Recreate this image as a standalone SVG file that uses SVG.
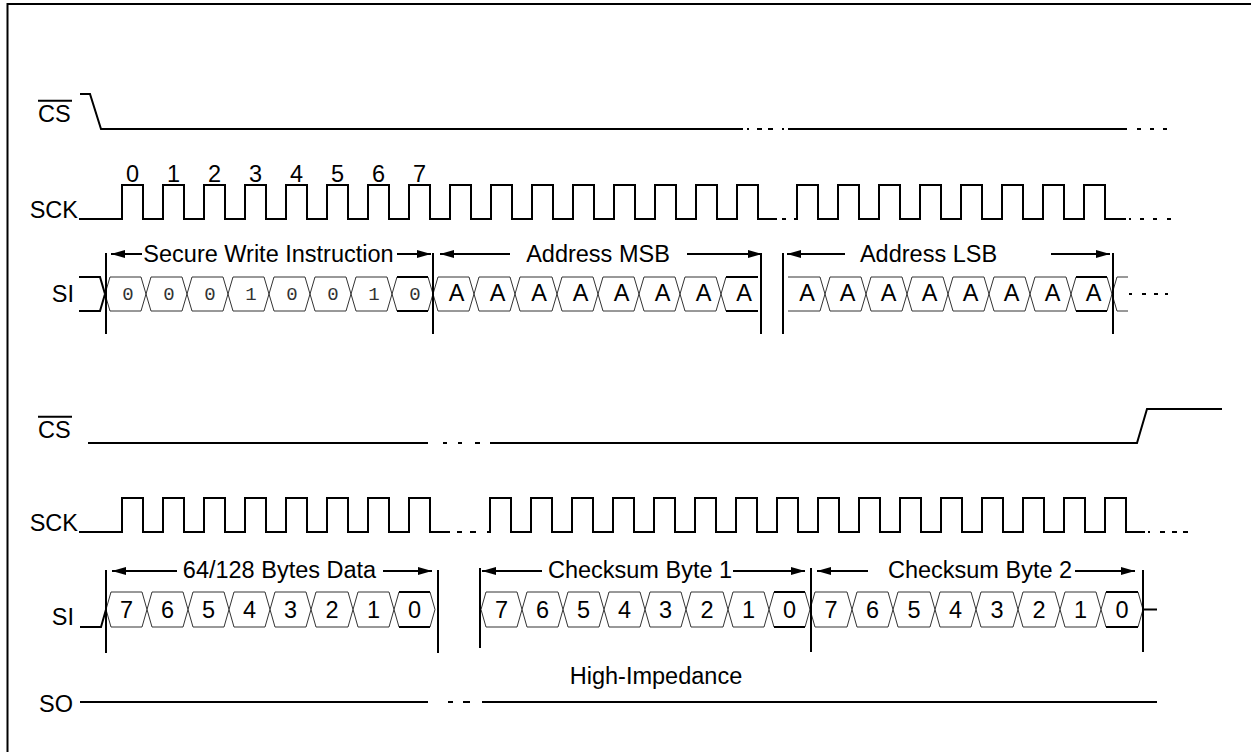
<svg xmlns="http://www.w3.org/2000/svg" width="1251" height="752" viewBox="0 0 1251 752">
<defs>
<style>
.sig{fill:none;stroke:#000;stroke-width:2}
.hex{fill:none;stroke:#333;stroke-width:1}
.thk{fill:none;stroke:#000;stroke-width:2}
.mk{fill:none;stroke:#000;stroke-width:2}
.arr{fill:none;stroke:#000;stroke-width:2;marker-end:url(#ah)}
.lbl{font-family:"Liberation Sans",Arial,sans-serif;font-size:23.5px;fill:#000}
.c{text-anchor:middle}
.e{text-anchor:end}
.bit{font-family:"Liberation Mono","Courier New",monospace;font-size:19px;fill:#333;text-anchor:middle}
</style>
<marker id="ah" markerUnits="userSpaceOnUse" markerWidth="14" markerHeight="8" refX="14" refY="4" orient="auto">
<path d="M0,0 L14,4 L0,8 z" fill="#000"/>
</marker>
</defs>
<rect width="1251" height="752" fill="#fff"/>
<path class="sig" d="M7.5,752 V4 H1251"/>

<g id="cs-top">
<text class="lbl" x="38" y="122">CS</text>
<line class="sig" x1="38" y1="100.7" x2="72" y2="100.7"/>
<path class="sig" d="M80,94 H90 L101,129 H743 M747,129 H749 M757,129 H762 M768,129 H773 M782,129 H784 M788,129 H1127 M1137,129 H1141 M1150,129 H1154 M1163,129 H1167"/>
</g>

<g id="sck-top">
<text class="lbl e" x="78" y="218">SCK</text>
<path class="sig" d="M79,219 H122 V185 H143 V219 H163 V185 H184 V219 H204 V185 H225 V219 H245 V185 H266 V219 H286 V185 H307 V219 H327 V185 H348 V219 H368 V185 H389 V219 H409 V185 H430 V219 H450 V185 H471 V219 H491 V185 H512 V219 H532 V185 H553 V219 H573 V185 H594 V219 H614 V185 H635 V219 H655 V185 H676 V219 H696 V185 H717 V219 H737 V185 H758 V219 H777 M782,219 H786 M794,219 H797 V185 H818 V219 H838 V185 H859 V219 H879 V185 H900 V219 H920 V185 H941 V219 H961 V185 H982 V219 H1002 V185 H1023 V219 H1043 V185 H1064 V219 H1084 V185 H1105 V219 H1126 M1129,219 H1131 M1140,219 H1144 M1153,219 H1157 M1167,219 H1171"/>
<g class="lbl c">
<text x="132.5" y="182">0</text><text x="173.5" y="182">1</text><text x="214.5" y="182">2</text><text x="255.5" y="182">3</text><text x="296.5" y="182">4</text><text x="337.5" y="182">5</text><text x="378.5" y="182">6</text><text x="419.5" y="182">7</text>
</g>
</g>

<g id="si-top">
<text class="lbl e" x="74" y="302">SI</text>
<path class="sig" d="M79,277 H100 L105,294 L100,311 H79"/>
<g class="hex">
<polygon points="105,294 110,277 141,277 146,294 141,311 110,311"/>
<polygon points="146,294 151,277 182,277 187,294 182,311 151,311"/>
<polygon points="187,294 192,277 223,277 228,294 223,311 192,311"/>
<polygon points="228,294 233,277 264,277 269,294 264,311 233,311"/>
<polygon points="269,294 274,277 305,277 310,294 305,311 274,311"/>
<polygon points="310,294 315,277 346,277 351,294 346,311 315,311"/>
<polygon points="351,294 356,277 387,277 392,294 387,311 356,311"/>
<polygon points="392,294 397,277 428,277 433,294 428,311 397,311"/>
<polygon points="433,294 438,277 469,277 474,294 469,311 438,311"/>
<polygon points="474,294 479,277 510,277 515,294 510,311 479,311"/>
<polygon points="515,294 520,277 552,277 557,294 552,311 520,311"/>
<polygon points="557,294 562,277 593,277 598,294 593,311 562,311"/>
<polygon points="598,294 603,277 634,277 639,294 634,311 603,311"/>
<polygon points="639,294 644,277 675,277 680,294 675,311 644,311"/>
<polygon points="680,294 685,277 716,277 721,294 716,311 685,311"/>
<path d="M758,277 H726 L721,294 L726,311 H758"/>
<path d="M788,277 H820 L825,294 L820,311 H788"/>
<polygon points="825,294 830,277 861,277 866,294 861,311 830,311"/>
<polygon points="866,294 871,277 902,277 907,294 902,311 871,311"/>
<polygon points="907,294 912,277 943,277 948,294 943,311 912,311"/>
<polygon points="948,294 953,277 984,277 989,294 984,311 953,311"/>
<polygon points="989,294 994,277 1025,277 1030,294 1025,311 994,311"/>
<polygon points="1030,294 1035,277 1066,277 1071,294 1066,311 1035,311"/>
<polygon points="1071,294 1076,277 1107,277 1112,294 1107,311 1076,311"/>
<path d="M1128,277 H1117 L1112,294 L1117,311 H1128"/>
</g>
<path class="thk" d="M397,277 H428 M397,311 H428 M726,277 H758 M726,311 H758 M1076,277 H1107 M1076,311 H1107"/>
<path class="sig" d="M1129,294 H1132 M1142,294 H1146 M1154,294 H1158 M1165,294 H1168"/>
<g class="bit">
<text x="128" y="300">0</text><text x="169" y="300">0</text><text x="210" y="300">0</text><text x="251" y="300">1</text><text x="292" y="300">0</text><text x="333" y="300">0</text><text x="374" y="300">1</text><text x="415" y="300">0</text>
</g>
<g class="lbl c">
<text x="456.5" y="301">A</text><text x="497.5" y="301">A</text><text x="539" y="301">A</text><text x="580.5" y="301">A</text><text x="621.5" y="301">A</text><text x="662.5" y="301">A</text><text x="703.5" y="301">A</text><text x="744" y="301">A</text>
<text x="807" y="301">A</text><text x="847.5" y="301">A</text><text x="888.5" y="301">A</text><text x="929.5" y="301">A</text><text x="970.5" y="301">A</text><text x="1011.5" y="301">A</text><text x="1052.5" y="301">A</text><text x="1093.5" y="301">A</text>
</g>
</g>

<g id="cs-bottom">
<text class="lbl" x="38" y="438">CS</text>
<line class="sig" x1="38" y1="416.7" x2="72" y2="416.7"/>
<path class="sig" d="M88,443 H428 M443,443 H447 M458,443 H462 M475,443 H480 M490,443 H1137 L1147,409 H1222"/>
</g>

<g id="sck-bottom">
<text class="lbl e" x="78" y="530.5">SCK</text>
<path class="sig" d="M79,532 H122 V498 H143 V532 H163 V498 H184 V532 H204 V498 H225 V532 H245 V498 H266 V532 H286 V498 H307 V532 H327 V498 H348 V532 H368 V498 H389 V532 H409 V498 H430 V532 H450 M457,532 H462 M470,532 H476 M487,532 H490 V498 H511 V532 H531 V498 H552 V532 H572 V498 H593 V532 H613 V498 H634 V532 H654 V498 H675 V532 H695 V498 H716 V532 H736 V498 H757 V532 H777 V498 H798 V532 H818 V498 H839 V532 H859 V498 H880 V532 H900 V498 H921 V532 H941 V498 H962 V532 H982 V498 H1003 V532 H1023 V498 H1044 V532 H1064 V498 H1085 V532 H1105 V498 H1126 V532 H1145 M1148,532 H1150 M1160,532 H1165 M1172,532 H1177 M1183,532 H1188"/>
</g>

<g id="si-bottom">
<text class="lbl e" x="74" y="625">SI</text>
<path class="sig" d="M80,627 H101 L106,609.5"/>
<g class="hex">
<polygon points="106,609.5 111,592 142,592 147,609.5 142,627 111,627"/>
<polygon points="147,609.5 152,592 183,592 188,609.5 183,627 152,627"/>
<polygon points="188,609.5 193,592 224,592 229,609.5 224,627 193,627"/>
<polygon points="229,609.5 234,592 265,592 270,609.5 265,627 234,627"/>
<polygon points="270,609.5 275,592 306,592 311,609.5 306,627 275,627"/>
<polygon points="311,609.5 316,592 348,592 353,609.5 348,627 316,627"/>
<polygon points="353,609.5 358,592 389,592 394,609.5 389,627 358,627"/>
<polygon points="394,609.5 399,592 430,592 435,609.5 430,627 399,627"/>
<polygon points="481,609.5 486,592 517,592 522,609.5 517,627 486,627"/>
<polygon points="522,609.5 527,592 558,592 563,609.5 558,627 527,627"/>
<polygon points="563,609.5 568,592 599,592 604,609.5 599,627 568,627"/>
<polygon points="604,609.5 609,592 640,592 645,609.5 640,627 609,627"/>
<polygon points="645,609.5 650,592 681,592 686,609.5 681,627 650,627"/>
<polygon points="686,609.5 691,592 723,592 728,609.5 723,627 691,627"/>
<polygon points="728,609.5 733,592 764,592 769,609.5 764,627 733,627"/>
<polygon points="769,609.5 774,592 805,592 810,609.5 805,627 774,627"/>
<polygon points="810,609.5 815,592 847,592 852,609.5 847,627 815,627"/>
<polygon points="852,609.5 857,592 888,592 893,609.5 888,627 857,627"/>
<polygon points="893,609.5 898,592 930,592 935,609.5 930,627 898,627"/>
<polygon points="935,609.5 940,592 971,592 976,609.5 971,627 940,627"/>
<polygon points="976,609.5 981,592 1013,592 1018,609.5 1013,627 981,627"/>
<polygon points="1018,609.5 1023,592 1055,592 1060,609.5 1055,627 1023,627"/>
<polygon points="1060,609.5 1065,592 1096,592 1101,609.5 1096,627 1065,627"/>
<polygon points="1101,609.5 1106,592 1138,592 1143,609.5 1138,627 1106,627"/>
</g>
<path class="thk" d="M399,592 H430 M399,627 H430 M774,592 H805 M774,627 H805 M1106,592 H1138 M1106,627 H1138"/>
<path class="sig" d="M1143,609.5 H1157"/>
<g class="lbl c">
<text x="126.5" y="617.5">7</text><text x="167.5" y="617.5">6</text><text x="208.5" y="617.5">5</text><text x="249.5" y="617.5">4</text><text x="290.5" y="617.5">3</text><text x="332" y="617.5">2</text><text x="373.5" y="617.5">1</text><text x="414.5" y="617.5">0</text>
<text x="501.5" y="617.5">7</text><text x="542.5" y="617.5">6</text><text x="583.5" y="617.5">5</text><text x="624.5" y="617.5">4</text><text x="665.5" y="617.5">3</text><text x="707" y="617.5">2</text><text x="748.5" y="617.5">1</text><text x="789.5" y="617.5">0</text>
<text x="831" y="617.5">7</text><text x="872.5" y="617.5">6</text><text x="914" y="617.5">5</text><text x="955.5" y="617.5">4</text><text x="997" y="617.5">3</text><text x="1039" y="617.5">2</text><text x="1080.5" y="617.5">1</text><text x="1122" y="617.5">0</text>
</g>
</g>

<g id="so">
<text class="lbl" x="39" y="712">SO</text>
<path class="sig" d="M80,702 H428 M448,702 H453 M463,702 H470 M482,702 H1157"/>
<text class="lbl c" x="656" y="684">High-Impedance</text>
</g>

<g id="connectors">
<path class="mk" d="M106,253 V334 M433,253 V334 M761,253 V334 M783,253 V334 M1113,253 V334"/>
<path class="mk" d="M106,570 V653 M438,570 V653 M480,568 V648 M811,568 V652 M1143,570 V652"/>
<path class="arr" d="M142,254 H111"/>
<path class="arr" d="M397,254 H431"/>
<path class="arr" d="M510,254 H440"/>
<path class="arr" d="M687,254 H762"/>
<path class="arr" d="M845,254 H787"/>
<path class="arr" d="M1051,254 H1110"/>
<path class="arr" d="M177,571 H112"/>
<path class="arr" d="M383,571 H432"/>
<path class="arr" d="M542,571 H482"/>
<path class="arr" d="M733,571 H805"/>
<path class="arr" d="M868,571 H817"/>
<path class="arr" d="M1075,571 H1135"/>
<g class="lbl c">
<text x="268.5" y="262">Secure Write Instruction</text>
<text x="598" y="262">Address MSB</text>
<text x="928.5" y="262">Address LSB</text>
<text x="279.5" y="578">64/128 Bytes Data</text>
<text x="640" y="578">Checksum Byte 1</text>
<text x="980" y="578">Checksum Byte 2</text>
</g>
</g>
</svg>
